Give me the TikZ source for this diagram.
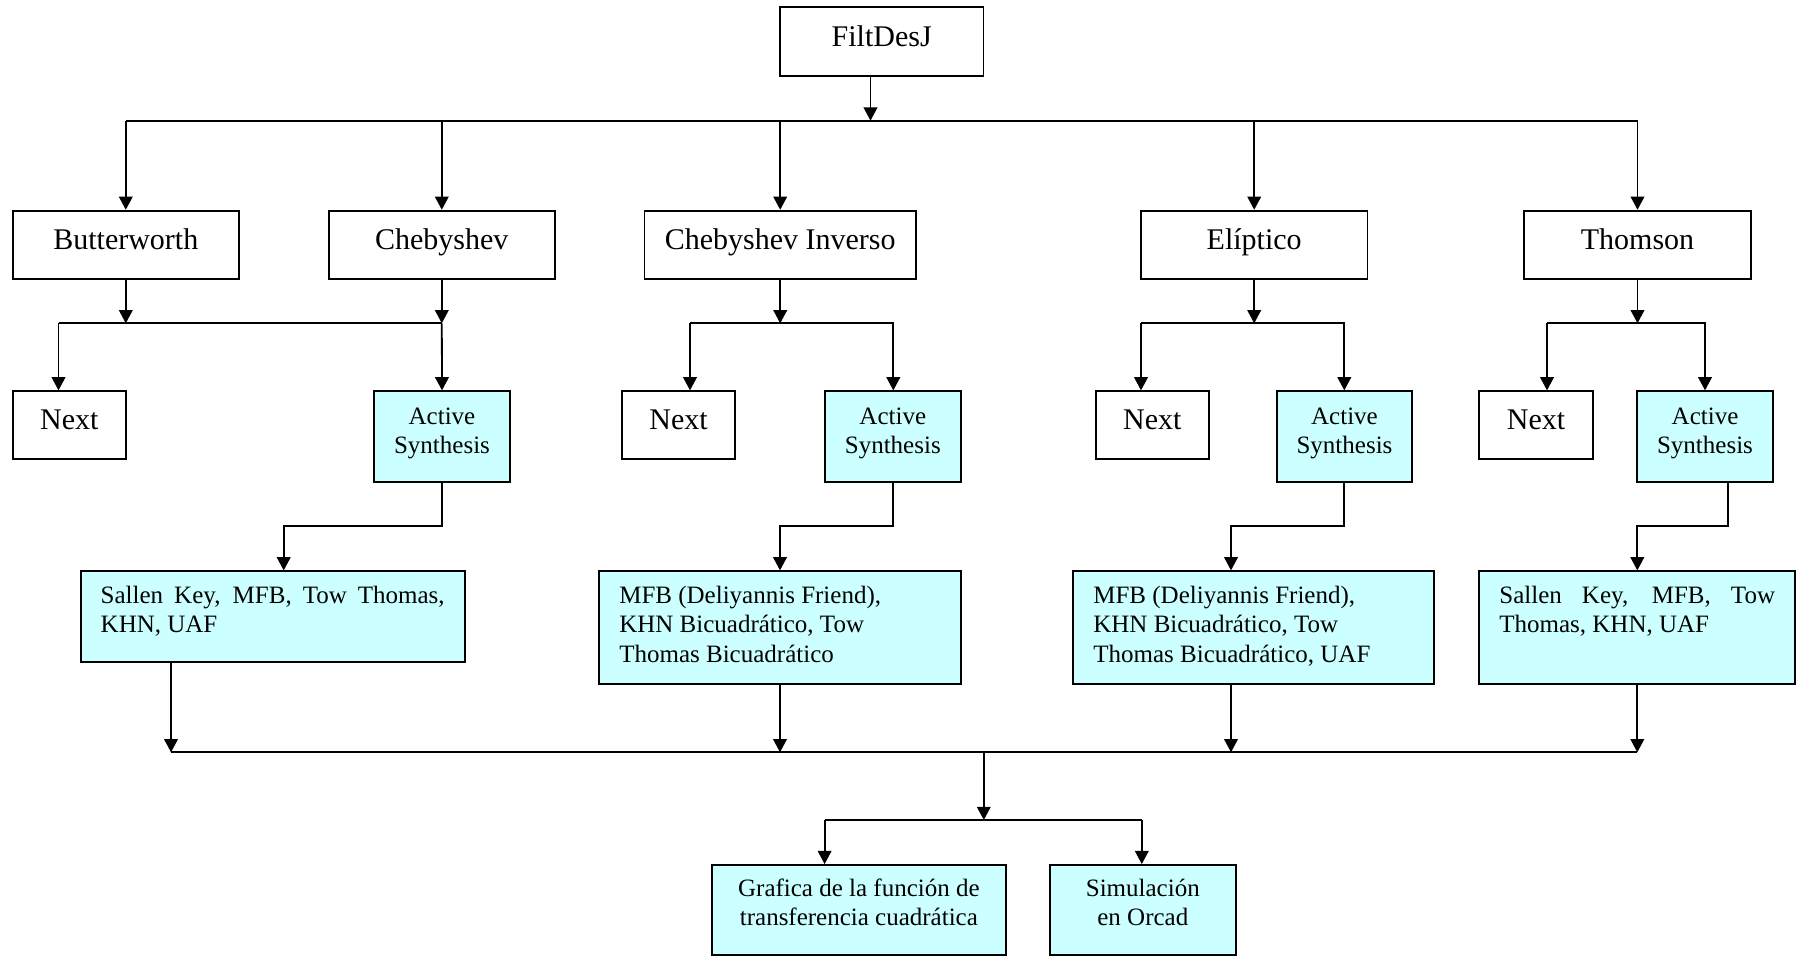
\documentclass[tikz,border=0pt]{standalone}
\usepackage{fontspec}
\setmainfont{Liberation Serif}
\usetikzlibrary{arrows.meta}
\definecolor{cellcyan}{RGB}{204,255,255}
\newcommand{\boxtext}[3]{\parbox[c][#1][t]{#2}{#3}}

\begin{document}
\begin{tikzpicture}[x=0.5pt, y=-0.5pt, line width=0.9pt,
    arr/.style={-{Triangle[length=6.6pt,width=6.8pt]}},
    filter/.style={draw, fill=white, inner sep=0pt, minimum width=113.2pt, minimum height=34pt,
        font=\fontsize{15}{18}\selectfont, text height=8pt, text depth=3.4pt},
    nextbox/.style={filter, minimum width=56.7pt},
    active/.style={draw, fill=cellcyan, inner sep=0pt, font=\fontsize{12.5}{14.8}\selectfont},
    topology/.style={active, inner xsep=10pt, inner ysep=0pt}]
  \useasboundingbox (0,0) rectangle (1799,956);

  % filters
  \node[filter, minimum width=101.75pt, minimum height=34.2pt] (filt) at (881.7,41.5) {FiltDesJ};
  \node[filter] (butter) at (125.8,244.7) {Butterworth};
  \node[filter] (cheby) at (441.8,244.7) {Chebyshev};
  \node[filter, minimum width=135.75pt] (inv) at (780.2,244.7) {Chebyshev Inverso};
  \node[filter] (elip) at (1254.2,244.7) {Elíptico};
  \node[filter] (thom) at (1637.5,244.7) {Thomson};

  % second level
  \node[nextbox] (nexta) at (69.3,425.3) {Next};
  \node[nextbox] (nextb) at (678.5,425.3) {Next};
  \node[nextbox] (nextc) at (1152.3,425.3) {Next};
  \node[nextbox] (nextd) at (1536,425.3) {Next};
  \foreach \n/\x in {acta/442, actb/892.8, actc/1344.5, actd/1705}
    \node[active] (\n) at (\x,436.5) {\boxtext{45.2pt}{67.8pt}{\centering\rule{0pt}{16.5pt}Active\\Synthesis}};

  % topologies
  \node[topology] (topsa) at (272.7,616.7) {\boxtext{45.35pt}{172pt}{\rule{0pt}{16pt}\makebox[\linewidth][s]{Sallen Key, MFB, Tow Thomas,}\\KHN, UAF}};
  \node[topology] (topsb) at (780,627.8) {\boxtext{56.5pt}{160.7pt}{\raggedright\rule{0pt}{16pt}MFB (Deliyannis Friend),\\KHN Bicuadrático, Tow\\Thomas Bicuadrático}};
  \node[topology] (topsc) at (1253.7,627.8) {\boxtext{56.5pt}{160.35pt}{\raggedright\rule{0pt}{16pt}MFB (Deliyannis Friend),\\KHN Bicuadrático, Tow\\Thomas Bicuadrático, UAF}};
  \node[topology] (topsd) at (1637.2,627.8) {\boxtext{56.5pt}{137.85pt}{\rule{0pt}{16pt}\makebox[\linewidth][s]{Sallen Key, MFB, Tow}\\Thomas, KHN, UAF}};

  % results
  \node[active] (graf) at (858.9,910) {\boxtext{45pt}{146.85pt}{\centering\rule{0pt}{15.5pt}Grafica de la función de\\transferencia cuadrática}};
  \node[active] (simu) at (1142.8,910) {\boxtext{45pt}{93.2pt}{\centering\rule{0pt}{15.5pt}Simulación\\en Orcad}};

  % top bus
  \coordinate (bus) at (870.5,120.7);
  \draw[arr] (filt.south -| bus) -- (bus);
  \draw (butter.north |- bus) -- (thom.north |- bus);
  \foreach \n in {butter,cheby,inv,elip,thom}
    \draw[arr] (\n.north |- bus) -- (\n.north);

  % splits
  \coordinate (sa) at (58.5,323.3);
  \draw[arr] (butter.south) -- (butter.south |- sa);
  \draw[arr] (cheby.south) -- (cheby.south |- sa);
  \draw (sa) -- (cheby.south |- sa);
  \draw[arr] (sa) -- (nexta.north -| sa);
  \draw[arr] (cheby.south |- sa) -- (acta.north);
  \foreach \f/\nx/\ac/\xl/\xr in {inv/nextb/actb/690/893.3, elip/nextc/actc/1141/1344.3, thom/nextd/actd/1547/1705} {
    \coordinate (L\f) at (\xl,323.3);
    \coordinate (R\f) at (\xr,323.3);
    \draw[arr] (\f.south) -- (\f.south |- L\f);
    \draw[arr] (L\f) -- (\nx.north -| L\f);
    \draw[arr] (L\f) -- (R\f) -- (\ac.north -| R\f);
  }

  % active -> topology
  \foreach \a/\t/\xa/\xt in {acta/topsa/442/283.7, actb/topsb/893.3/780, actc/topsc/1344.3/1231, actd/topsd/1727.7/1637.3} {
    \coordinate (d\a) at (\xa,526.3);
    \coordinate (t\a) at (\xt,526.3);
    \draw[arr] (\a.south -| d\a) -- (d\a) -- (t\a) -- (\t.north -| t\a);
  }

  % bottom bus
  \foreach \t/\x in {topsa/171, topsb/780, topsc/1231, topsd/1637.3} {
    \coordinate (bot\t) at (\x,752.3);
    \draw[arr] (\t.south -| bot\t) -- (bot\t);
  }
  \draw (bottopsa) -- (bottopsd);
  \coordinate (low) at (983.8,752.3);
  \coordinate (fork) at (983.8,820);
  \coordinate (forkL) at (824.6,820);
  \coordinate (forkR) at (1141.8,820);
  \draw[arr] (low) -- (fork);
  \draw (forkL) -- (forkR);
  \draw[arr] (forkL) -- (graf.north -| forkL);
  \draw[arr] (forkR) -- (simu.north -| forkR);
\end{tikzpicture}
\end{document}
